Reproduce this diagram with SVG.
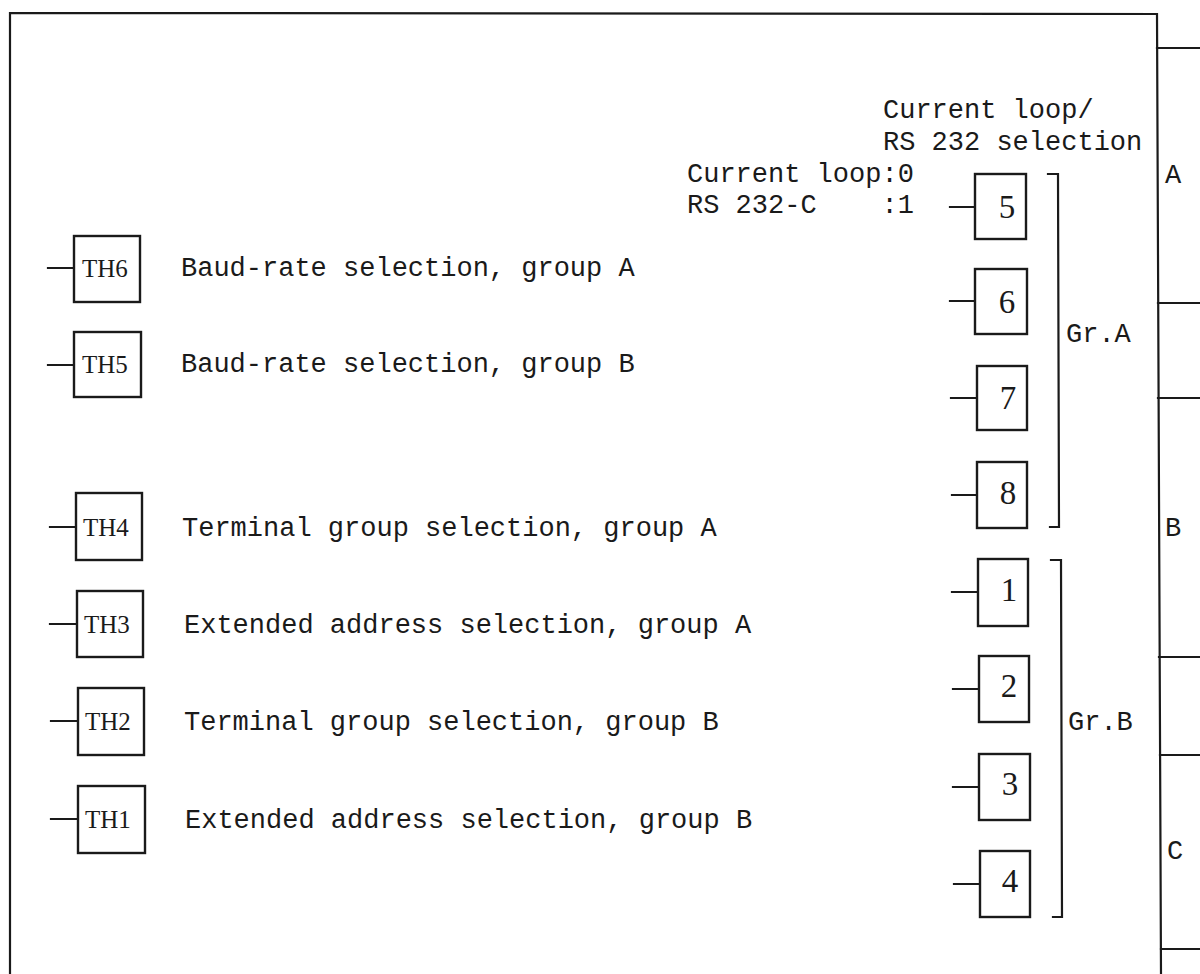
<svg xmlns="http://www.w3.org/2000/svg" width="1200" height="974" viewBox="0 0 1200 974">
<style>
.ln{stroke:#1a1a1a;stroke-width:2.2;fill:none;stroke-linecap:square}
.box{stroke:#1a1a1a;stroke-width:2.4;fill:#fff}
.mono{font-family:"Liberation Mono","Courier New",monospace;font-size:27px;fill:#1a1a1a;white-space:pre}
.th{font-family:"Liberation Serif","Times New Roman",serif;font-size:25px;fill:#1a1a1a}
.dig{font-family:"Liberation Serif","Times New Roman",serif;font-size:33px;fill:#1a1a1a;text-anchor:middle}
</style>
<rect width="1200" height="974" fill="#fff"/>
<g id="frame">
<path class="ln" d="M10,974 L10,13 L1157,14 L1161,974"/>
<path class="ln" d="M1157,48 H1200 M1158,303 H1200 M1158,398 H1200 M1159,657 H1200 M1160,755 H1200 M1161,949 H1200"/>
<text class="mono" x="1165" y="183">A</text>
<text class="mono" x="1165" y="536">B</text>
<text class="mono" x="1167" y="859">C</text>
</g>
<g id="connectors">
<path class="ln" d="M48,268 H74 M48,365 H74 M50,527 H76 M50,624 H77 M51,721 H78 M51,819 H78"/>
<path class="ln" d="M950,207 H975 M950,301 H975 M951,398 H977 M952,495 H977 M952,592 H978 M953,689 H979 M953,787 H979 M954,884 H980"/>
</g>
<g id="TH6"><rect class="box" x="74" y="236" width="66" height="66"/><text class="th" x="82" y="277">TH6</text><text class="mono" x="181" y="276">Baud-rate selection, group A</text></g>
<g id="TH5"><rect class="box" x="74" y="332" width="67" height="65"/><text class="th" x="82" y="373">TH5</text><text class="mono" x="181" y="372">Baud-rate selection, group B</text></g>
<g id="TH4"><rect class="box" x="76" y="493" width="66" height="67"/><text class="th" x="83" y="536">TH4</text><text class="mono" x="182" y="536">Terminal group selection, group A</text></g>
<g id="TH3"><rect class="box" x="77" y="591" width="66" height="66"/><text class="th" x="84" y="633">TH3</text><text class="mono" x="184" y="633">Extended address selection, group A</text></g>
<g id="TH2"><rect class="box" x="78" y="688" width="66" height="67"/><text class="th" x="85" y="730">TH2</text><text class="mono" x="184" y="730">Terminal group selection, group B</text></g>
<g id="TH1"><rect class="box" x="78" y="786" width="67" height="67"/><text class="th" x="85" y="828">TH1</text><text class="mono" x="185" y="828">Extended address selection, group B</text></g>
<g id="title">
<text class="mono" x="883" y="118">Current loop/</text>
<text class="mono" x="883" y="150">RS 232 selection</text>
<text class="mono" x="687" y="182">Current loop:0</text>
<text class="mono" x="687" y="213">RS 232-C    :1</text>
</g>
<g id="sw5"><rect class="box" x="975" y="174" width="51" height="65"/><text class="dig" x="1007" y="218">5</text></g>
<g id="sw6"><rect class="box" x="975" y="269" width="52" height="65"/><text class="dig" x="1007" y="313">6</text></g>
<g id="sw7"><rect class="box" x="977" y="366" width="50" height="64"/><text class="dig" x="1008" y="409">7</text></g>
<g id="sw8"><rect class="box" x="977" y="462" width="50" height="66"/><text class="dig" x="1008" y="504">8</text></g>
<g id="sw1"><rect class="box" x="978" y="559" width="50" height="67"/><text class="dig" x="1009" y="601">1</text></g>
<g id="sw2"><rect class="box" x="979" y="656" width="50" height="66"/><text class="dig" x="1009" y="697">2</text></g>
<g id="sw3"><rect class="box" x="979" y="754" width="51" height="66"/><text class="dig" x="1010" y="795">3</text></g>
<g id="sw4"><rect class="box" x="980" y="851" width="50" height="66"/><text class="dig" x="1010" y="892">4</text></g>
<g id="grA"><path class="ln" d="M1048,174 H1058 L1059,527 H1050"/><text class="mono" x="1066" y="342">Gr.A</text></g>
<g id="grB"><path class="ln" d="M1051,560 H1061 L1062,917 H1053"/><text class="mono" x="1068" y="730">Gr.B</text></g>
</svg>
